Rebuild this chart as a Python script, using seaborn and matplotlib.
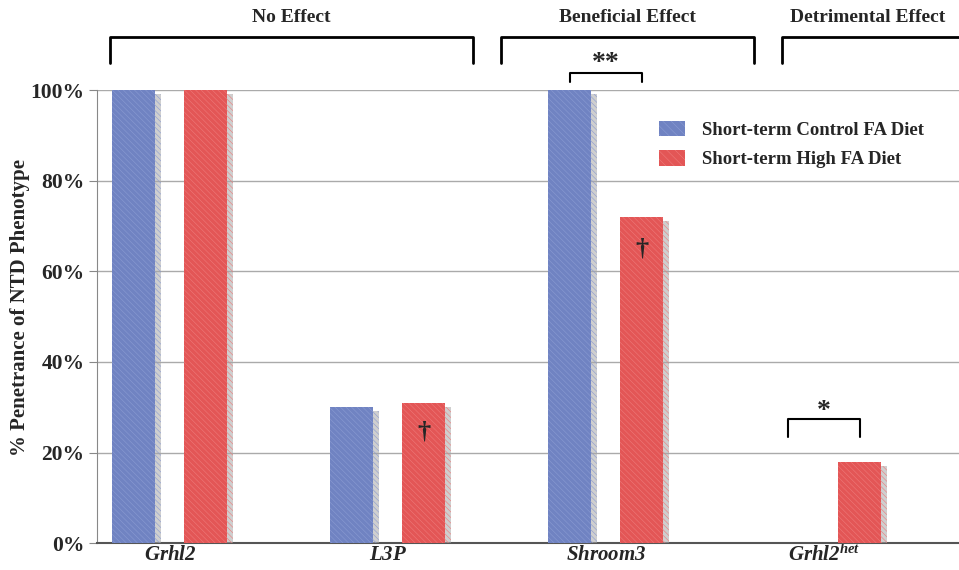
import pandas as pd
import seaborn as sns
import matplotlib.pyplot as plt
import matplotlib.patheffects as pe
from matplotlib.patches import Patch
import numpy as np

# Data
genes = ['Grhl2', 'L3P', 'Shroom3', 'Grhl2het']
tick_labels = [r'$Grhl2$', r'$L3P$', r'$Shroom3$', r'$Grhl2^{het}$']
control_fa = [100, 30, 100, 0]
high_fa = [100, 31, 72, 18]
diets = ['Short-term Control FA Diet', 'Short-term High FA Diet']

df = pd.DataFrame({
    'gene': genes * 2,
    'diet': [diets[0]] * 4 + [diets[1]] * 4,
    'penetrance': control_fa + high_fa,
})

sns.set_style('white')
plt.rcParams['font.family'] = ['Liberation Serif', 'DejaVu Serif']
plt.rcParams['font.weight'] = 'bold'
plt.rcParams['mathtext.fontset'] = 'custom'
plt.rcParams['mathtext.rm'] = 'Liberation Serif:bold:italic'
plt.rcParams['mathtext.it'] = 'Liberation Serif:bold:italic'
plt.rcParams['hatch.linewidth'] = 0.4

colors = ['#7083c2', '#e35656']
hatch_colors = ['#8a9bd2', '#ee7a7a']

fig = plt.figure(figsize=(9.59, 5.70), dpi=100)
ax = fig.add_axes([0.101, 0.047, 0.899, 0.795])

sns.barplot(data=df, x='gene', y='penetrance', hue='diet', order=genes,
            hue_order=diets, palette=colors, saturation=1, width=0.66,
            gap=0.4, ax=ax, legend=False)

shadow = [pe.SimplePatchShadow(offset=(4, -3), shadow_rgbFace='#a8a8a8', alpha=0.55),
          pe.Normal()]
for cont, hc in zip(ax.containers, hatch_colors):
    for bar in cont:
        bar.set_hatch('\\\\\\\\\\\\')
        bar.set_edgecolor(hc)
        bar.set_linewidth(0)
        if bar.get_height() > 0:
            bar.set_path_effects(shadow)
        bar.set_zorder(3)

ax.set_ylim(0, 100)
ax.set_xlim(-0.335, 3.62)
ax.set_yticks(np.arange(0, 101, 20))
ax.set_yticklabels([f'{v}%' for v in range(0, 101, 20)], fontsize=15.5, fontweight='bold')
ax.set_xticks(range(len(genes)))
ax.set_xticklabels(tick_labels, fontsize=15)
ax.tick_params(axis='y', length=6, color='#888888', direction='out', left=True, pad=3)
ax.tick_params(axis='x', length=0, pad=1)
ax.yaxis.grid(True, color='#aaaaaa', linewidth=1)
ax.set_axisbelow(True)
ax.set_xlabel('')
ax.set_ylabel('% Penetrance of NTD Phenotype', fontsize=15, fontweight='bold')
ax.yaxis.set_label_coords(-0.077, 0.52)
for s in ['top', 'right']:
    ax.spines[s].set_visible(False)
ax.spines['left'].set_color('#888888')
ax.spines['bottom'].set_color('#555555')
ax.spines['bottom'].set_linewidth(1.5)

# Effect group brackets above the plot
groups = [('No Effect', -0.275, 1.39), ('Beneficial Effect', 1.52, 2.68),
          ('Detrimental Effect', 2.81, 3.8)]
for name, x0, x1 in groups:
    ax.plot([x0, x0, x1, x1], [106, 111.7, 111.7, 106], color='black', lw=2,
            clip_on=False)
    xc = (x0 + x1) / 2 if name != 'Detrimental Effect' else 3.2
    ax.text(xc, 116, name, ha='center', va='center', fontsize=14, fontweight='bold',
            clip_on=False)

# Significance brackets
off = 0.165
ax.plot([2 - off, 2 - off, 2 + off, 2 + off], [101.8, 103.8, 103.8, 101.8],
        color='black', lw=1.5, clip_on=False)
ax.text(2, 105.8, '**', ha='center', va='center', fontsize=20, fontweight='bold')
ax.plot([3 - off, 3 - off, 3 + off, 3 + off], [23.5, 27.5, 27.5, 23.5],
        color='black', lw=1.5)
ax.text(3, 29.0, '*', ha='center', va='center', fontsize=20, fontweight='bold')

# Daggers on high FA bars
ax.text(1 + off, 24.5, '\u2020', ha='center', va='center', fontsize=19, zorder=5)
ax.text(2 + off, 65, '\u2020', ha='center', va='center', fontsize=19, zorder=5)

# Legend
handles = [Patch(facecolor=c, edgecolor=hc, hatch='\\\\\\\\', linewidth=0)
           for c, hc in zip(colors, hatch_colors)]
leg = ax.legend(handles, diets, loc='upper left', bbox_to_anchor=(0.632, 0.97),
                frameon=False, fontsize=13.5, handlelength=1.4, handleheight=0.9,
                labelspacing=0.6, handletextpad=0.9)
for t in leg.get_texts():
    t.set_fontweight('bold')

fig.savefig('out.png', dpi=100)
